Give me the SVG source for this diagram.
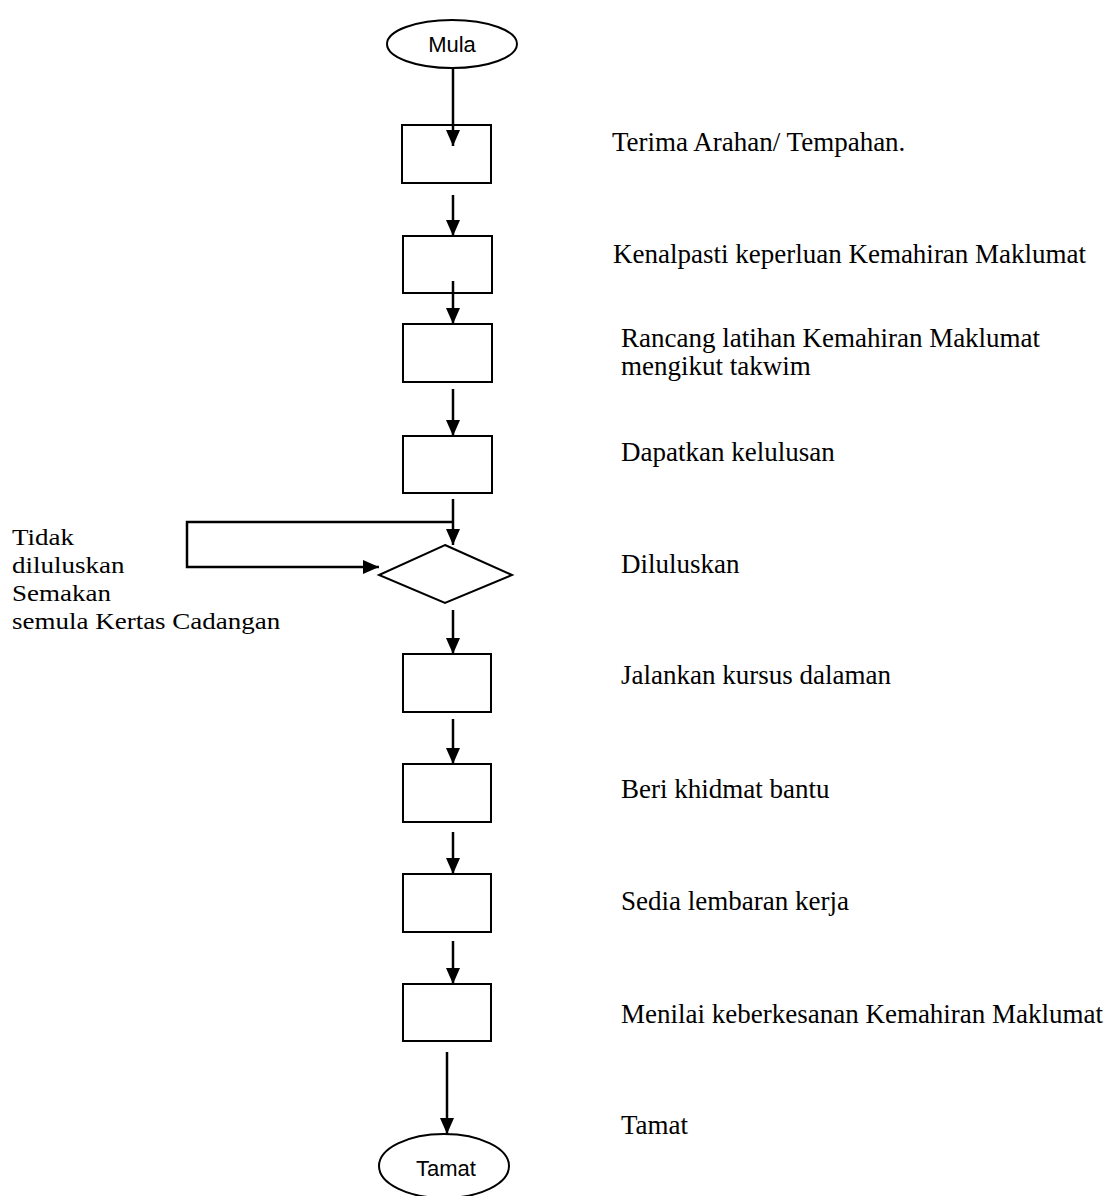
<svg xmlns="http://www.w3.org/2000/svg" width="1114" height="1196" viewBox="0 0 1114 1196">
<defs>
<style>
.shape{fill:#fff;stroke:#000;stroke-width:2}
.conn{fill:none;stroke:#000;stroke-width:2.5}
.lbl{font-family:"Liberation Serif","Times New Roman",serif;font-size:27px;fill:#000}
.lbl2{font-family:"Liberation Serif","Times New Roman",serif;font-size:24px;fill:#000}
.term{font-family:"Liberation Sans",Arial,sans-serif;font-size:22px;fill:#000;text-anchor:middle}
</style>
<marker id="ah" viewBox="0 0 16 14" refX="16" refY="7" markerWidth="16" markerHeight="14" markerUnits="userSpaceOnUse" orient="auto">
<path d="M0,0 L16,7 L0,14 z" fill="#000"/>
</marker>
</defs>
<rect width="1114" height="1196" fill="#fff"/>

<g id="start">
<ellipse class="shape" cx="452" cy="44" rx="65" ry="24"/>
<text class="term" x="452" y="52">Mula</text>
</g>
<g id="n1"><rect class="shape" x="402" y="125" width="89" height="58"/></g>
<g id="n2"><rect class="shape" x="403" y="236" width="89" height="57"/></g>
<g id="n3"><rect class="shape" x="403" y="324" width="89" height="58"/></g>
<g id="n4"><rect class="shape" x="403" y="436" width="89" height="57"/></g>
<g id="d1"><polygon class="shape" points="445,545 512,575 445,603 379,575"/></g>
<g id="n5"><rect class="shape" x="403" y="654" width="88" height="58"/></g>
<g id="n6"><rect class="shape" x="403" y="764" width="88" height="58"/></g>
<g id="n7"><rect class="shape" x="403" y="874" width="88" height="58"/></g>
<g id="n8"><rect class="shape" x="403" y="984" width="88" height="57"/></g>
<g id="end">
<ellipse class="shape" cx="444" cy="1166" rx="65" ry="32"/>
<text class="term" x="446" y="1176">Tamat</text>
</g>

<g id="connectors">
<line class="conn" x1="453" y1="68" x2="453" y2="146" marker-end="url(#ah)"/>
<line class="conn" x1="453" y1="195" x2="453" y2="236" marker-end="url(#ah)"/>
<line class="conn" x1="453" y1="281" x2="453" y2="324" marker-end="url(#ah)"/>
<line class="conn" x1="453" y1="389" x2="453" y2="436" marker-end="url(#ah)"/>
<line class="conn" x1="453" y1="499" x2="453" y2="545" marker-end="url(#ah)"/>
<polyline class="conn" points="453,522 187,522 187,567 379,567" marker-end="url(#ah)"/>
<line class="conn" x1="453" y1="610" x2="453" y2="654" marker-end="url(#ah)"/>
<line class="conn" x1="453" y1="719" x2="453" y2="764" marker-end="url(#ah)"/>
<line class="conn" x1="453" y1="832" x2="453" y2="874" marker-end="url(#ah)"/>
<line class="conn" x1="453" y1="941" x2="453" y2="984" marker-end="url(#ah)"/>
<line class="conn" x1="447" y1="1052" x2="447" y2="1134" marker-end="url(#ah)"/>
</g>

<g id="labels">
<text class="lbl" x="612" y="151">Terima Arahan/ Tempahan.</text>
<text class="lbl" x="613" y="263">Kenalpasti keperluan Kemahiran Maklumat</text>
<text class="lbl" x="621" y="347">Rancang latihan Kemahiran Maklumat</text>
<text class="lbl" x="621" y="375">mengikut takwim</text>
<text class="lbl" x="621" y="461">Dapatkan kelulusan</text>
<text class="lbl" x="621" y="573">Diluluskan</text>
<text class="lbl" x="621" y="684">Jalankan kursus dalaman</text>
<text class="lbl" x="621" y="798">Beri khidmat bantu</text>
<text class="lbl" x="621" y="910">Sedia lembaran kerja</text>
<text class="lbl" x="621" y="1023">Menilai keberkesanan Kemahiran Maklumat</text>
<text class="lbl" x="621" y="1134">Tamat</text>
</g>
<g id="side-labels" transform="translate(12,0) scale(1.125,1)">
<text class="lbl2" x="0" y="545">Tidak</text>
<text class="lbl2" x="0" y="573">diluluskan</text>
<text class="lbl2" x="0" y="601">Semakan</text>
<text class="lbl2" x="0" y="629">semula Kertas Cadangan</text>
</g>
</svg>
